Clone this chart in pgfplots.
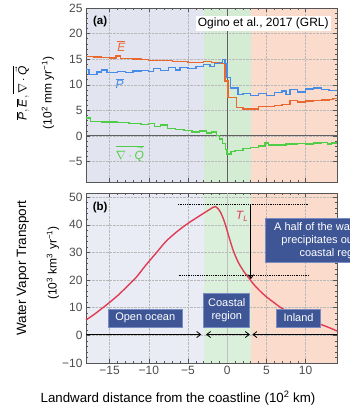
\documentclass[border=0pt]{standalone}
\usepackage{fontspec}
\setmainfont{Liberation Sans}
\setsansfont{Liberation Sans}
\usepackage{pgfplots}
\pgfplotsset{compat=1.18}
\usetikzlibrary{arrows.meta}
\definecolor{bgblueA}{RGB}{226,229,240}
\definecolor{bggreenA}{RGB}{212,236,212}
\definecolor{bgorangeA}{RGB}{251,220,204}
\definecolor{bgblueB}{RGB}{234,236,245}
\definecolor{bggreenB}{RGB}{218,240,218}
\definecolor{bgorangeB}{RGB}{251,220,204}
\definecolor{Ecol}{RGB}{232,104,48}
\definecolor{Pcol}{RGB}{70,140,230}
\definecolor{Qcol}{RGB}{80,205,70}
\definecolor{Tcol}{RGB}{225,60,85}
\definecolor{boxfill}{RGB}{62,86,150}
\definecolor{boxedge}{RGB}{120,140,195}
\definecolor{axcol}{RGB}{85,85,85}
\pgfplotsset{
  set layers,
  common/.style={
    scale only axis, width=251pt, xmin=-18, xmax=14,
    xtick={-15,-10,-5,0,5,10},
    minor x tick num=4, minor y tick num=4,
    axis line style={axcol, line width=0.8pt},
    every tick/.style={axcol, line width=0.5pt},
    major tick length=4pt, minor tick length=2pt,
    grid=major, grid style={densely dotted, gray!55, line width=0.5pt},
    tick label style={font=\fontsize{12}{13}\selectfont, text=black!70},
    /pgf/number format/assume math mode=true,
    clip=false,
  }
}
\begin{document}
\begin{tikzpicture}
% ---------------- panel (a)
\begin{axis}[common, name=a, at={(86pt,-8pt)}, anchor=north west,
  height=174pt, ymin=-9, ymax=25,
  ytick={-5,0,5,10,15,20,25}, yticklabels={−5,0,5,10,15,20,25},
  xticklabels={}]
\begin{pgfonlayer}{axis background}
\fill[bgblueA] (axis cs:-18,-9) rectangle (axis cs:-3,25);
\fill[bggreenA] (axis cs:-3,-9) rectangle (axis cs:3,25);
\fill[bgorangeA] (axis cs:3,-9) rectangle (axis cs:14,25);
\end{pgfonlayer}
\draw[gray!75!black, line width=0.9pt] (axis cs:-18,0) -- (axis cs:14,0);
\draw[gray!75!black, line width=0.9pt] (axis cs:0,-9) -- (axis cs:0,25);
\addplot[const plot, Ecol, line width=1.4pt] coordinates {
(-18,15.5) (-17,15.4) (-16,15.3) (-15,15.2) (-14.2,15.6) (-13.6,15.1) (-12,15.0)
(-11,14.9) (-10,14.8) (-9,14.7) (-8,14.7) (-7,14.5) (-6,14.6) (-5,14.4) (-4,14.3)
(-3,14.6) (-2,14.3) (-1,14.2) (-0.3,10.7) (0.1,7.5) (1.2,5.5) (2,5.3) (3,5.3)
(4,5.8) (5,5.8) (6,6.0) (7,6.1) (8,6.9) (9,6.6) (10,6.8) (11,6.9) (12,7.0)
(13,7.1) (13.5,7.3) (14,7.3)};
\addplot[const plot, Pcol, line width=1.4pt] coordinates {
(-18,13.0) (-17.6,12.0) (-16.6,12.5) (-16,12.9) (-15.3,12.4) (-14,12.6) (-13,12.4)
(-12,12.7) (-11,12.8) (-10,12.6) (-9.4,13.2) (-8.5,12.8) (-7.5,13.4) (-6.6,12.9)
(-6,13.4) (-5,13.2) (-4,13.6) (-3,14.0) (-2.2,13.6) (-1.6,14.2) (-1,14.4)
(-0.6,14.9) (-0.3,14.2) (0,11.4) (0.4,9.4) (1.4,8.1) (2,8.3) (3,7.9) (4,8.3)
(5,7.9) (6,8.5) (7,8.8) (7.5,8.1) (8,9.1) (9,8.6) (10,9.2) (11,9.4) (12,9.1)
(13,8.9) (14,8.9)};
\addplot[const plot, Qcol, line width=1.4pt] coordinates {
(-18,3.5) (-17.4,2.8) (-16,2.7) (-14,2.6) (-12.5,2.4) (-11,2.2) (-10,2.4) (-9.3,1.8)
(-8.5,2.1) (-7.6,1.5) (-6.6,1.3) (-5.5,1.1) (-4.5,0.8) (-3.5,1.0) (-2.6,0.6)
(-2,0.8) (-1.4,0.1) (-1,-0.6) (-0.6,-1.5) (-0.2,-2.6) (0,-3.5) (0.5,-3.0) (1,-2.8)
(2,-2.4) (3,-2.2) (4,-2.0) (4.8,-1.4) (5.3,-1.8) (6,-1.8) (7.5,-1.6) (9,-1.5)
(10,-1.6) (11,-1.4) (12,-1.3) (12.8,-1.6) (13.3,-1.4) (14,-1.4)};
\node[font=\bfseries\fontsize{11.5}{12}\selectfont] at (axis cs:-16.2,22.3) {(a)};
\node[fill=white, inner sep=2pt, font=\fontsize{12}{13}\selectfont] at (axis cs:4.6,22.0) {Ogino et al., 2017 (GRL)};
\node[Ecol, font=\fontsize{12}{12}\selectfont] at (axis cs:-13.5,17.6) {$\overline{\mbox{\itshape E}}$};
\node[Pcol, font=\fontsize{12}{12}\selectfont] at (axis cs:-13.7,10.2) {$\overline{\mbox{\itshape P}}$};
\node[Qcol, font=\fontsize{12}{12}\selectfont] at (axis cs:-12.4,-3.4) {$\overline{\nabla\cdot\vec{\mbox{\itshape Q}}}$};
\end{axis}
% ---------------- panel (b)
\begin{axis}[common, name=b, at={(86pt,-193pt)}, anchor=north west,
  height=170pt, ymin=-10, ymax=51.5,
  ytick={-10,0,10,20,30,40,50}, yticklabels={−10,0,10,20,30,40,50},
  xticklabels={−15,−10,−5,0,5,10}]
\begin{pgfonlayer}{axis background}
\fill[bgblueB] (axis cs:-18,-10) rectangle (axis cs:-3,51.5);
\fill[bggreenB] (axis cs:-3,-10) rectangle (axis cs:3,51.5);
\fill[bgorangeB] (axis cs:3,-10) rectangle (axis cs:14,51.5);
\end{pgfonlayer}
\draw[gray!50, line width=0.8pt] (axis cs:0,-10) -- (axis cs:0,51.5);
\draw[densely dotted, black, line width=0.8pt] (axis cs:-6.3,47.3) -- (axis cs:10.4,47.3);
\draw[densely dotted, black, line width=0.8pt] (axis cs:-6.2,21.8) -- (axis cs:10.4,21.8);
\draw[-{Straight Barb[length=4pt,width=6pt]}, black, line width=0.8pt] (axis cs:3.0,47.3) -- (axis cs:3.0,20.3);
\addplot[Tcol, line width=1.4pt, smooth] coordinates {
(-18,5.6) (-17,7.5) (-15.4,11.0) (-14,14.3) (-12.9,17.3) (-11.6,21.0) (-10.4,25.3)
(-9,30.0) (-7.8,34.0) (-6.5,37.3) (-5.3,39.9) (-4.2,42.0) (-3.1,44.0) (-2.2,45.6)
(-1.5,46.6) (-0.9,44.8) (-0.4,41.5) (0,37.8) (0.4,34.0) (0.8,30.5) (1.4,26.5)
(2.1,23.2) (2.8,20.6) (3.4,18.4) (4.2,16.0) (5.1,13.7) (6.0,11.8) (6.8,10.1)
(8.0,8.2) (9.3,6.5) (10.6,5.2) (11.9,4.0) (13,2.8) (14,1.6)};
\node[Tcol, font=\itshape\fontsize{12}{12}\selectfont] at (axis cs:1.9,43.0) {T\textsubscript{L}};
\node[font=\bfseries\fontsize{11.5}{12}\selectfont] at (axis cs:-16.2,46.4) {(b)};
% arrows
\draw[-{Straight Barb[length=4pt,width=6pt]}, black, line width=0.8pt] (axis cs:-18,0.3) -- (axis cs:-3.3,0.3);
\draw[{Straight Barb[length=4pt,width=6pt]}-{Straight Barb[length=4pt,width=6pt]}, black, line width=0.8pt] (axis cs:-2.7,0.3) -- (axis cs:2.9,0.3);
\draw[-{Straight Barb[length=4pt,width=6pt]}, black, line width=0.8pt] (axis cs:14,0.3) -- (axis cs:3.2,0.3);
% boxes
\tikzset{bx/.style={fill=boxfill, draw=boxedge, line width=0.6pt, text=white, align=center, inner sep=1pt, font=\fontsize{11}{13}\selectfont}}
\node[bx, minimum width=74pt, minimum height=18pt] at (axis cs:-10.45,6.3) {Open ocean};
\node[bx, minimum width=46pt, minimum height=34pt] at (axis cs:-0.05,9.2) {Coastal\\region};
\node[bx, minimum width=44pt, minimum height=18pt] at (axis cs:9.1,6.3) {Inland};
\node[bx, anchor=north west, inner xsep=9pt, minimum height=44pt] at (axis cs:4.8,42.5) {A half of the water vapor\\precipitates out in the\\coastal region};
\end{axis}
% labels
\node[rotate=90, font=\fontsize{12}{14}\selectfont] at (21pt,-93pt) {$\overline{\mbox{\itshape P}},\overline{\mbox{\itshape E}},\overline{\nabla\cdot\vec{\mbox{\itshape Q}}}$};
\node[rotate=90, font=\fontsize{12}{14}\selectfont] at (48pt,-93pt) {(10\textsuperscript{2} mm yr\textsuperscript{−1})};
\node[rotate=90, font=\fontsize{13.5}{14}\selectfont] at (23pt,-268pt) {Water Vapor Transport};
\node[rotate=90, font=\fontsize{12}{14}\selectfont] at (53pt,-263pt) {(10\textsuperscript{3} km\textsuperscript{3} yr\textsuperscript{−1})};
\node[font=\fontsize{13.3}{14}\selectfont] at (178pt,-398pt) {Landward distance from the coastline (10\textsuperscript{2} km)};
\pgfresetboundingbox
\path[use as bounding box] (0pt,0pt) rectangle (349pt,-407pt);
\end{tikzpicture}
\end{document}
